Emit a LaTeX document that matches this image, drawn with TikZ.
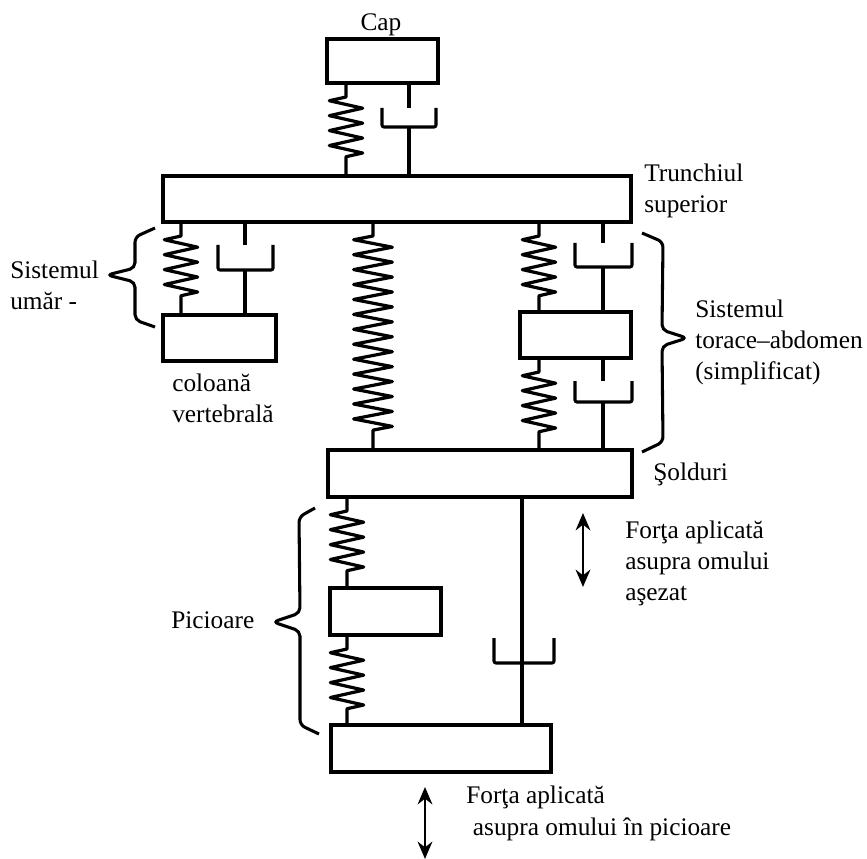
\documentclass[tikz,border=0pt]{standalone}
\usepackage{fontspec}
\setmainfont{Liberation Serif}
\usetikzlibrary{decorations.pathmorphing, arrows.meta}

\tikzset{
  rod/.style={black, line width=2.3pt, rounded corners=1.5pt},
  mass/.style={draw, black, line width=2.3pt, inner sep=0pt, outer sep=0pt},
  spring/.style={black, line width=2.4pt, line join=round, decorate, decoration={zigzag, mirror, segment length=11.2pt, amplitude=12.5pt, pre length=10.5pt, post length=10.5pt}},
  longspring/.style={spring, decoration={amplitude=14.5pt}},
  brace/.style={black, line width=2.3pt, rounded corners=4pt},
  label/.style={inner sep=0pt, anchor=base west, align=left, font=\fontsize{19}{23.25}\selectfont},
  force/.style={black, line width=1.9pt, {Stealth[length=13pt, width=11pt]}-{Stealth[length=13pt, width=11pt]}}
}

\begin{document}
\begin{tikzpicture}[x=0.75pt, y=-0.75pt]
\useasboundingbox (0,0) rectangle (867,859);

% masses
\node[mass, minimum width=83.25pt, minimum height=33pt] (cap) at (382.5,61) {};
\node[mass, minimum width=351pt, minimum height=34.5pt] (trunchi) at (397,199) {};
\node[mass, minimum width=84.75pt, minimum height=34.5pt] (umar) at (219.5,338) {};
\node[mass, minimum width=83.25pt, minimum height=34.5pt] (torace) at (575.5,335) {};
\node[mass, minimum width=228pt, minimum height=35.25pt] (solduri) at (480,473.5) {};
\node[mass, minimum width=83.25pt, minimum height=35.25pt] (picior) at (385.5,611.5) {};
\node[mass, minimum width=165pt, minimum height=35.25pt] (talpa) at (441,748.5) {};

% springs
\coordinate (s1) at (346,0);
\coordinate (s2) at (181,0);
\coordinate (s3) at (373,0);
\coordinate (s4) at (539,0);
\coordinate (s5) at (347,0);
\draw[spring] (s1 |- cap.south) -- (s1 |- trunchi.north);
\draw[spring] (s2 |- trunchi.south) -- (s2 |- umar.north);
\draw[longspring] (s3 |- trunchi.south) -- (s3 |- solduri.north);
\draw[spring] (s4 |- trunchi.south) -- (s4 |- torace.north);
\draw[spring] (s4 |- torace.south) -- (s4 |- solduri.north);
\draw[spring] (s5 |- solduri.south) -- (s5 |- picior.north);
\draw[spring] (s5 |- picior.south) -- (s5 |- talpa.north);

% dampers, d is the bottom middle of the cup
\coordinate (d1) at (409,127);
\draw[rod] (d1 |- cap.south) -- ++(0,25);
\draw[rod] (d1) -- (d1 |- trunchi.north);
\draw[rod] (d1) ++(-27,-19) -- ++(0,19) -- ++(54,0) -- ++(0,-19);

\coordinate (d2) at (245,270);
\draw[rod] (d2 |- trunchi.south) -- ++(0,23);
\draw[rod] (d2) -- (d2 |- umar.north);
\draw[rod] (d2) ++(-27,-25) -- ++(0,25) -- ++(55,0) -- ++(0,-25);

\coordinate (d3) at (603,267);
\draw[rod] (d3 |- trunchi.south) -- ++(0,21);
\draw[rod] (d3) -- (d3 |- torace.north);
\draw[rod] (d3) ++(-28,-24) -- ++(0,24) -- ++(57,0) -- ++(0,-24);

\coordinate (d4) at (603,402);
\draw[rod] (d4 |- torace.south) -- ++(0,23);
\draw[rod] (d4) -- (d4 |- solduri.north);
\draw[rod] (d4) ++(-28,-21) -- ++(0,21) -- ++(57,0) -- ++(0,-21);

\coordinate (d5) at (522,663);
\draw[rod] (d5 |- solduri.south) -- (d5 |- talpa.north);
\draw[rod] (d5) ++(-28,-25) -- ++(0,25) -- ++(60,0) -- ++(0,-25);

% braces
\draw[brace] (155,228) -- (135,237) -- (135,268) -- (107,275) -- (135,282) -- (135,320) -- (155,327);
\draw[brace] (642,233) -- (663,242) -- (662,330) -- (687,338) -- (662,346) -- (663,442) -- (642,452);
\draw[brace] (315,508) -- (299,517) -- (300,613) -- (273,622) -- (300,631) -- (300,725) -- (319,734);

% forces
\coordinate (f1a) at (583,513);
\coordinate (f1b) at (583,587);
\coordinate (f2a) at (425,787);
\coordinate (f2b) at (425,859);
\draw[force] (f1a) -- (f1b);
\draw[force] (f2a) -- (f2b);

% texts, the y is the base of the last line
\node[label, anchor=base] (tcap) at (381,31) {Cap};
\node[label] (ttrunchi) at (644,213) {Trunchiul\\superior};
\node[label] (tumar) at (10,310) {Sistemul\\umăr -};
\node[label] (tcoloana) at (172,422) {coloană\\vertebrală};
\node[label] (ttorace) at (695,379) {Sistemul\\torace–abdomen\\(simplificat)};
\node[label] (tsolduri) at (653,480) {Şolduri};
\node[label] (tf1) at (625,600) {Forţa aplicată\\asupra omului\\aşezat};
\node[label] (tpicioare) at (171,628) {Picioare};
\node[label] (tf2) at (466,835) {Forţa aplicată\\[0.75pt]\hspace*{5pt}asupra omului în picioare};
\end{tikzpicture}
\end{document}
